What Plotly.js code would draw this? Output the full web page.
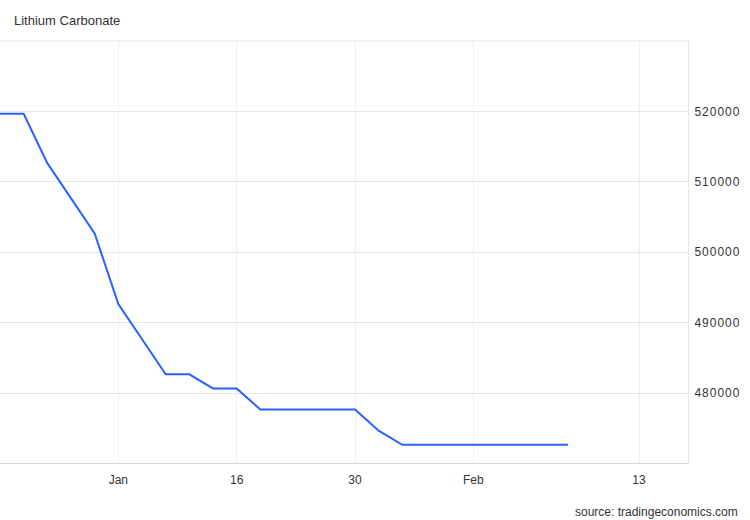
<!DOCTYPE html>
<html>
<head>
<meta charset="utf-8">
<script src="https://cdn.plot.ly/plotly-3.0.1.min.js"></script>
<style>html,body{margin:0;padding:0;background:#fff}#chart{width:750px;height:520px}
#chart .ytick text{letter-spacing:1px}</style>
</head>
<body>
<div id="chart"></div>
<script>
// Lithium Carbonate price (CNY/T), equally spaced observations
var prices = [519650, 519650, 512650, 507650, 502650, 492650, 487650, 482650, 482650,
              480650, 480650, 477650, 477650, 477650, 477650, 477650, 474650, 472650,
              472650, 472650, 472650, 472650, 472650, 472650, 472650];
var xTickLabels = ["Jan", "16", "30", "Feb", "13"];
var xTickIndex = [5, 10, 15, 20, 27];
var yTicks = [480000, 490000, 500000, 510000, 520000];

var idx = prices.map(function (p, i) { return i; });

var trace = {
  x: idx, y: prices, type: 'scatter', mode: 'lines',
  line: {color: '#2962ff', width: 2},
  hoverinfo: 'y'
};

var font = {family: 'Liberation Sans, Arial, sans-serif', size: 12, color: '#333'};
var yfont = {family: 'Liberation Sans, Arial, sans-serif', size: 12, color: '#333'};

var layout = {
  width: 750, height: 520,
  margin: {l: 0, r: 62, t: 41, b: 57, pad: 0},
  paper_bgcolor: '#fff', plot_bgcolor: '#fff',
  showlegend: false,
  font: font,
  title: {text: 'Lithium Carbonate', x: 14/750, xanchor: 'left', y: 1 - 20/520, yanchor: 'middle',
          font: {family: 'Liberation Sans, Arial, sans-serif', size: 13, color: '#333'}},
  xaxis: {
    range: [0, 29.07], tickmode: 'array', tickvals: xTickIndex, ticktext: xTickLabels,
    showgrid: true, gridcolor: '#eef0f4', gridwidth: 1, zeroline: false,
    showline: true, linecolor: '#d9d9d9', linewidth: 1,
    ticks: '', ticklabelstandoff: 6, tickfont: font, fixedrange: true
  },
  yaxis: {
    range: [470060, 530000], side: 'right', tickmode: 'array', tickvals: yTicks,
    tickformat: 'd', showgrid: true, gridcolor: '#e6e6e6', gridwidth: 1, zeroline: false,
    showline: true, linecolor: '#e6e6e6', linewidth: 1,
    ticks: '', ticklabelstandoff: 3, tickfont: yfont, fixedrange: true
  },
  shapes: [{type: 'line', xref: 'paper', yref: 'paper', x0: 0, x1: 1, y0: 1, y1: 1,
            line: {color: '#e6e6e6', width: 1}}],
  annotations: [{text: 'source: tradingeconomics.com', xref: 'paper', yref: 'paper',
                 x: 740/688, xanchor: 'right', y: -(512-463)/422, yanchor: 'middle',
                 showarrow: false, font: {family: 'Liberation Sans, Arial, sans-serif', size: 12, color: '#333'}}]
};

Plotly.newPlot('chart', [trace], layout, {displayModeBar: false, staticPlot: true});
</script>
</body>
</html>
